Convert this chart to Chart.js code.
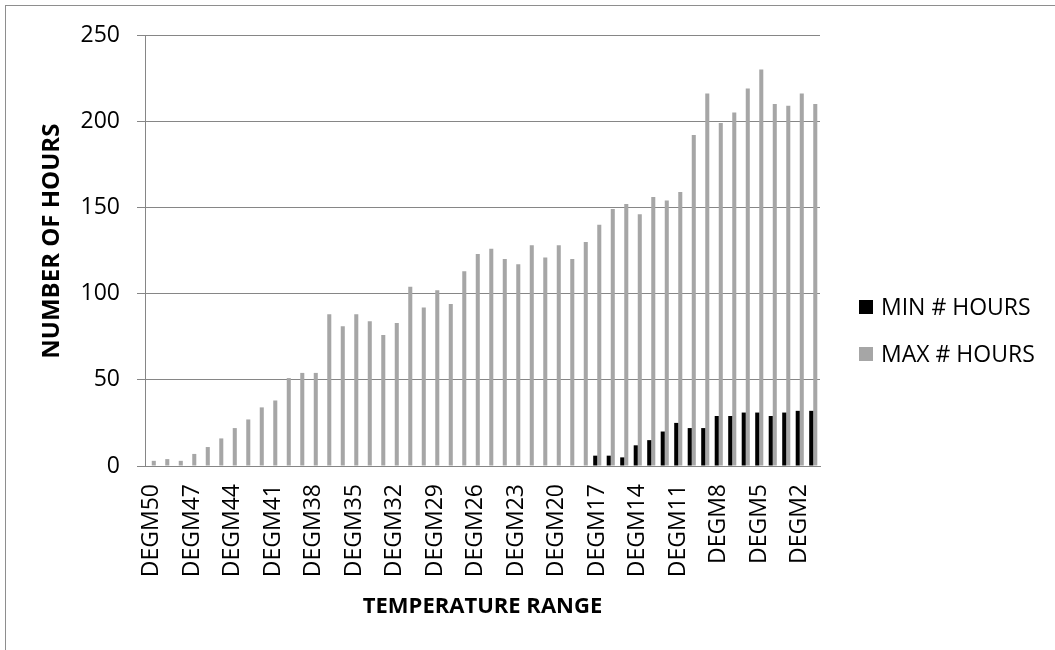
<!DOCTYPE html>
<html>
<head>
<meta charset="utf-8">
<script src="https://cdn.jsdelivr.net/npm/chart.js@4.4.1/dist/chart.umd.min.js"></script>
<style>
  html, body { margin: 0; padding: 0; background: #ffffff; }
  #wrap { position: relative; width: 1055px; height: 650px; overflow: hidden; }
  #frame { position: absolute; left: 5px; top: 5px; width: 2000px; height: 2000px;
           border-top: 1px solid #8e8e8e; border-left: 1px solid #8e8e8e; box-sizing: border-box; }
  canvas { position: absolute; left: 0; top: 0; }
</style>
</head>
<body>
<div id="wrap">
  <div id="frame"></div>
  <canvas id="c" width="1055" height="650"></canvas>
</div>
<script>
const categories = ["DEGM50","DEGM49","DEGM48","DEGM47","DEGM46","DEGM45","DEGM44","DEGM43","DEGM42","DEGM41",
                    "DEGM40","DEGM39","DEGM38","DEGM37","DEGM36","DEGM35","DEGM34","DEGM33","DEGM32","DEGM31",
                    "DEGM30","DEGM29","DEGM28","DEGM27","DEGM26","DEGM25","DEGM24","DEGM23","DEGM22","DEGM21",
                    "DEGM20","DEGM19","DEGM18","DEGM17","DEGM16","DEGM15","DEGM14","DEGM13","DEGM12","DEGM11",
                    "DEGM10","DEGM9","DEGM8","DEGM7","DEGM6","DEGM5","DEGM4","DEGM3","DEGM2","DEGM1"];
const minHours = [0,0,0,0,0,0,0,0,0,0,
                  0,0,0,0,0,0,0,0,0,0,
                  0,0,0,0,0,0,0,0,0,0,
                  0,0,0,6,6,5,12,15,20,25,
                  22,22,29,29,31,31,29,31,32,32];
const maxHours = [3,4,3,7,11,16,22,27,34,38,
                  51,54,54,88,81,88,84,76,83,104,
                  92,102,94,113,123,126,120,117,128,121,
                  128,120,130,140,149,152,146,156,154,159,
                  192,216,199,205,219,230,210,209,216,210];
const seriesNames = ["MIN # HOURS", "MAX # HOURS"];
const yTicks = [0, 50, 100, 150, 200, 250];

const FONT = "'Open Sans', 'DejaVu Sans', sans-serif";
const GRID = '#868686';

const legendPlugin = {
  id: 'sideLegend',
  afterDraw(chart) {
    const ctx = chart.ctx;
    ctx.save();
    ctx.font = '23px ' + FONT;
    ctx.textBaseline = 'middle';
    ctx.textAlign = 'left';
    const ys = [307, 354];
    chart.data.datasets.forEach((ds, i) => {
      ctx.fillStyle = ds.backgroundColor;
      ctx.fillRect(859, ys[i] - 7, 14, 14);
      ctx.fillStyle = '#000000';
      ctx.fillText(ds.label, 881, ys[i] + 1);
    });
    ctx.restore();
  }
};

new Chart(document.getElementById('c'), {
  type: 'bar',
  data: {
    labels: categories,
    datasets: [
      { label: seriesNames[0], data: minHours, backgroundColor: '#000000', borderWidth: 0,
        categoryPercentage: 0.6, barPercentage: 1.0 },
      { label: seriesNames[1], data: maxHours, backgroundColor: '#a6a6a6', borderWidth: 0,
        categoryPercentage: 0.6, barPercentage: 1.0 }
    ]
  },
  options: {
    responsive: false,
    animation: false,
    events: [],
    layout: { padding: { top: 35, right: 235, bottom: 0, left: 0 } },
    plugins: { legend: { display: false }, tooltip: { enabled: false } },
    scales: {
      x: {
        grid: { display: false },
        border: { display: true, color: GRID, width: 1 },
        ticks: {
          autoSkip: false, minRotation: 90, maxRotation: 90, padding: 10,
          color: '#000000', font: { family: FONT, size: 23 },
          callback: function (v, i) { return i % 3 === 0 ? categories[i] : ''; }
        },
        title: { display: true, text: 'TEMPERATURE RANGE', color: '#000000',
                 font: { family: FONT, size: 22, weight: 'bold' }, padding: { top: 0, bottom: 30 } },
        afterFit(scale) { scale.height = 650 - 466; }
      },
      y: {
        min: 0, max: 250,
        afterBuildTicks(scale) { scale.ticks = yTicks.map(v => ({ value: v })); },
        grid: { color: GRID, lineWidth: 1, drawTicks: true, tickLength: 8, tickColor: GRID },
        border: { display: true, color: GRID, width: 1 },
        ticks: { padding: 17, color: '#000000', font: { family: FONT, size: 23 } },
        title: { display: true, text: '   NUMBER OF HOURS', color: '#000000',
                 font: { family: FONT, size: 24, weight: 'bold' }, padding: { top: 38, bottom: 0 } },
        afterFit(scale) { scale.width = 145; }
      }
    }
  },
  plugins: [legendPlugin]
});
</script>
</body>
</html>
